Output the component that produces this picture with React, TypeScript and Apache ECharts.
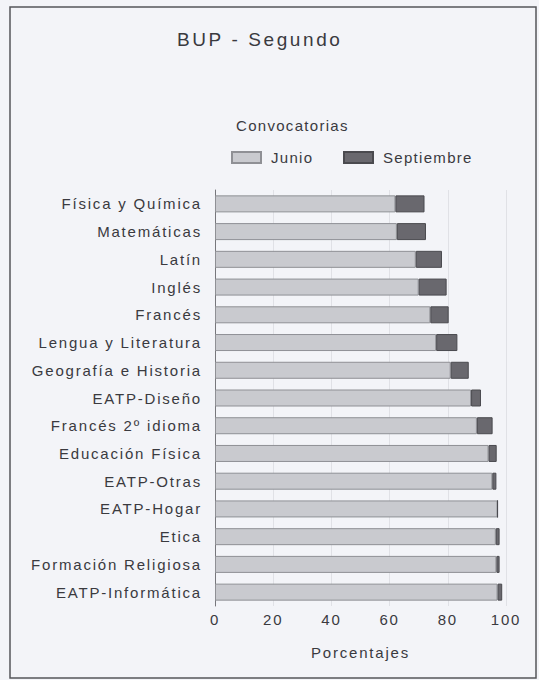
import React, { useEffect, useRef } from "react";
import * as echarts from "echarts";

const TITLE = "BUP - Segundo";
const LEGEND_TITLE = "Convocatorias";
const AXIS_NAME = "Porcentajes";
const SERIES_NAMES = ["Junio", "Septiembre"];

const categories = [
  "Física y Química",
  "Matemáticas",
  "Latín",
  "Inglés",
  "Francés",
  "Lengua y Literatura",
  "Geografía e Historia",
  "EATP-Diseño",
  "Francés 2º idioma",
  "Educación Física",
  "EATP-Otras",
  "EATP-Hogar",
  "Etica",
  "Formación Religiosa",
  "EATP-Informática",
];

const junio = [62, 62.5, 69, 70, 74, 76, 81, 88, 90, 94, 95.3, 97.1, 96.5, 96.7, 97.1];
const septiembre = [10, 10, 9, 9.6, 6.3, 7.3, 6.2, 3.4, 5.4, 2.8, 1.4, 0, 1.3, 1.1, 1.6];

const FONT = "'Liberation Sans', Arial, sans-serif";
const TEXT = "#3a3a3f";

export default function App() {
  const ref = useRef<HTMLDivElement>(null);

  useEffect(() => {
    document.body.style.margin = "0";
    const dom = ref.current!;
    const chart = echarts.init(dom, null, { renderer: "svg" });
    const legendCommon = {
      top: 150,
      padding: 0,
      icon: "rect",
      itemWidth: 29,
      itemHeight: 11,
      textStyle: { fontFamily: FONT, fontSize: 15, color: TEXT, padding: [0, 0, 0, 5] },
    };
    const option: any = {
      animation: false,
      backgroundColor: "#f3f4f8",
      textStyle: { fontFamily: FONT, color: TEXT },
      title: [
        {
          text: TITLE,
          left: 177,
          top: 30,
          padding: 0,
          textStyle: { fontFamily: FONT, fontSize: 19, fontWeight: "normal", color: TEXT },
        },
        {
          text: LEGEND_TITLE,
          left: 236,
          top: 118,
          padding: 0,
          textStyle: { fontFamily: FONT, fontSize: 15, fontWeight: "normal", color: TEXT },
        },
      ],
      legend: [
        { ...legendCommon, data: [SERIES_NAMES[0]], left: 231 },
        { ...legendCommon, data: [SERIES_NAMES[1]], left: 343 },
      ],
      grid: { left: 215, right: 33, top: 190, bottom: 74, containLabel: false },
      xAxis: {
        type: "value",
        min: 0,
        max: 100,
        interval: 20,
        name: AXIS_NAME,
        nameLocation: "middle",
        nameGap: 39,
        nameTextStyle: { fontFamily: FONT, fontSize: 15, color: TEXT },
        axisLine: { show: false },
        axisTick: { show: false },
        axisLabel: { fontFamily: FONT, fontSize: 15, color: TEXT, margin: 6 },
        splitLine: { show: true, lineStyle: { color: "#e0e1e6", width: 1 } },
      },
      yAxis: {
        type: "category",
        data: categories,
        inverse: true,
        axisLine: { show: true, lineStyle: { color: "#77777c", width: 1 } },
        axisTick: { show: false },
        axisLabel: { fontFamily: FONT, fontSize: 15, color: TEXT, margin: 13 },
      },
      series: [
        {
          name: SERIES_NAMES[0],
          type: "bar",
          stack: "total",
          data: junio,
          barWidth: 17,
          itemStyle: { color: "#c9cacf", borderColor: "#8f9095", borderWidth: 1 },
        },
        {
          name: SERIES_NAMES[1],
          type: "bar",
          stack: "total",
          data: septiembre,
          barWidth: 17,
          itemStyle: { color: "#69686e", borderColor: "#4a4a4f", borderWidth: 1 },
        },
      ],
      graphic: [
        {
          type: "rect",
          shape: { x: 10, y: 7, width: 526, height: 671 },
          style: { fill: "none", stroke: "#55555a", lineWidth: 1.5 },
          silent: true,
        },
      ],
    };
    chart.setOption(option);

    const applySpacing = () => {
      dom.querySelectorAll("text").forEach((t) => {
        const txt = t.textContent || "";
        let s = 1.8;
        if (txt === TITLE) s = 2.6;
        else if (txt === LEGEND_TITLE || SERIES_NAMES.includes(txt)) s = 1.3;
        (t as SVGTextElement).style.letterSpacing = s + "px";
      });
    };
    applySpacing();
    chart.on("finished", applySpacing);

    return () => {
      chart.dispose();
    };
  }, []);

  return (
    <div
      ref={ref}
      style={{ position: "absolute", left: 0, top: 0, width: 539, height: 680 }}
    />
  );
}
